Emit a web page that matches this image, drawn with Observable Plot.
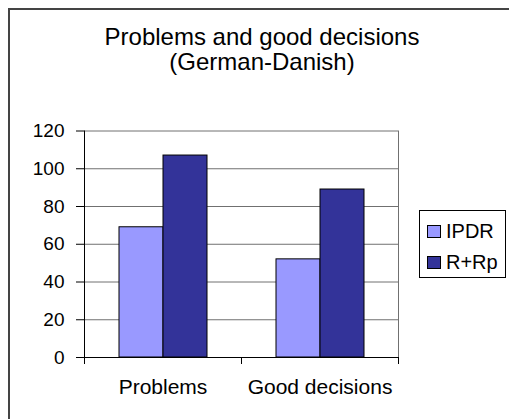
<!DOCTYPE html>
<html><head><meta charset="utf-8">
<script src="https://cdn.jsdelivr.net/npm/d3@7"></script>
<script src="https://cdn.jsdelivr.net/npm/@observablehq/plot@0.6"></script>
<style>
body{margin:0;background:#fff;font-family:"Liberation Sans",Arial,sans-serif;}
#wrap{position:relative;width:509px;height:419px;overflow:hidden;}
#border{position:absolute;left:8px;top:8px;width:520px;height:430px;border:2px solid #444;box-sizing:border-box;}
#title{position:absolute;left:8px;width:508px;top:24px;text-align:center;font-size:24px;line-height:25px;color:#000;}
#chart{position:absolute;left:0;top:0;}
#legend{position:absolute;left:419px;top:210px;width:87px;height:68px;border:1px solid #000;box-sizing:border-box;background:#fff;}
.item{position:absolute;left:7px;height:22px;line-height:22px;display:flex;align-items:center;font-size:20px;color:#000;}
.sw{width:14px;height:13px;border:1px solid #000;box-sizing:border-box;margin-right:5px;}
</style></head>
<body><div id="wrap">
<div id="border"></div>
<div id="chart"></div>
<div id="title">Problems and good decisions<br>(German-Danish)</div>
<div id="legend"></div>
</div>
<script>
const categories = ["Problems", "Good decisions"];
const series = ["IPDR", "R+Rp"];
const ipdrValues = [69, 52];
const rrpValues = [107, 89];
const yTicks = [0, 20, 40, 60, 80, 100, 120];
const colors = ["#9999FF", "#333399"];

const table = [];
categories.forEach((c, i) => {
  table.push({category: c, series: series[0], value: ipdrValues[i]});
  table.push({category: c, series: series[1], value: rrpValues[i]});
});

const W = 509, H = 419, mL = 83, mR = 111, mT = 130.5, mB = 62;
const plotH = H - mT - mB;

const chart = Plot.plot({
  width: W, height: H,
  marginLeft: mL, marginRight: mR, marginTop: mT, marginBottom: mB,
  style: {fontFamily: '"Liberation Sans", Arial, sans-serif', background: "transparent", color: "#000", overflow: "visible"},
  fx: {domain: categories, padding: 0, label: null},
  x: {domain: series, paddingInner: 0, paddingOuter: 0.75, axis: null},
  y: {domain: [0, 120], axis: null, label: null},
  color: {domain: series, range: colors},
  marks: [
    Plot.gridY(yTicks, {stroke: "#707070", strokeOpacity: 1}),
    Plot.frame({anchor: "right", facetAnchor: "right", stroke: "#707070"}),
    Plot.barY(table, {fx: "category", x: "series", y: "value", fill: "series", stroke: "#000", strokeWidth: 1}),
    Plot.frame({anchor: "left", facetAnchor: "left", stroke: "#000"}),
    Plot.frame({anchor: "bottom", stroke: "#000"}),
    Plot.frame({anchor: "left", insetTop: plotH, insetBottom: -6, stroke: "#000"}),
    Plot.frame({anchor: "right", insetTop: plotH, insetBottom: -6, stroke: "#000"}),
    Plot.axisY(yTicks, {tickSize: 8, tickPadding: 12, fontSize: 19, label: null, stroke: "#000"}),
    Plot.axisFx({anchor: "bottom", tickSize: 0, tickPadding: 22, fontSize: 21, label: null})
  ]
});
document.getElementById("chart").appendChild(chart);

const legend = document.getElementById("legend");
series.forEach((s, i) => {
  const it = document.createElement("div");
  it.className = "item";
  it.style.top = (9 + i * 31) + "px";
  const sw = document.createElement("span");
  sw.className = "sw";
  sw.style.background = colors[i];
  it.appendChild(sw);
  it.appendChild(document.createTextNode(s));
  legend.appendChild(it);
});
</script>
</body></html>
